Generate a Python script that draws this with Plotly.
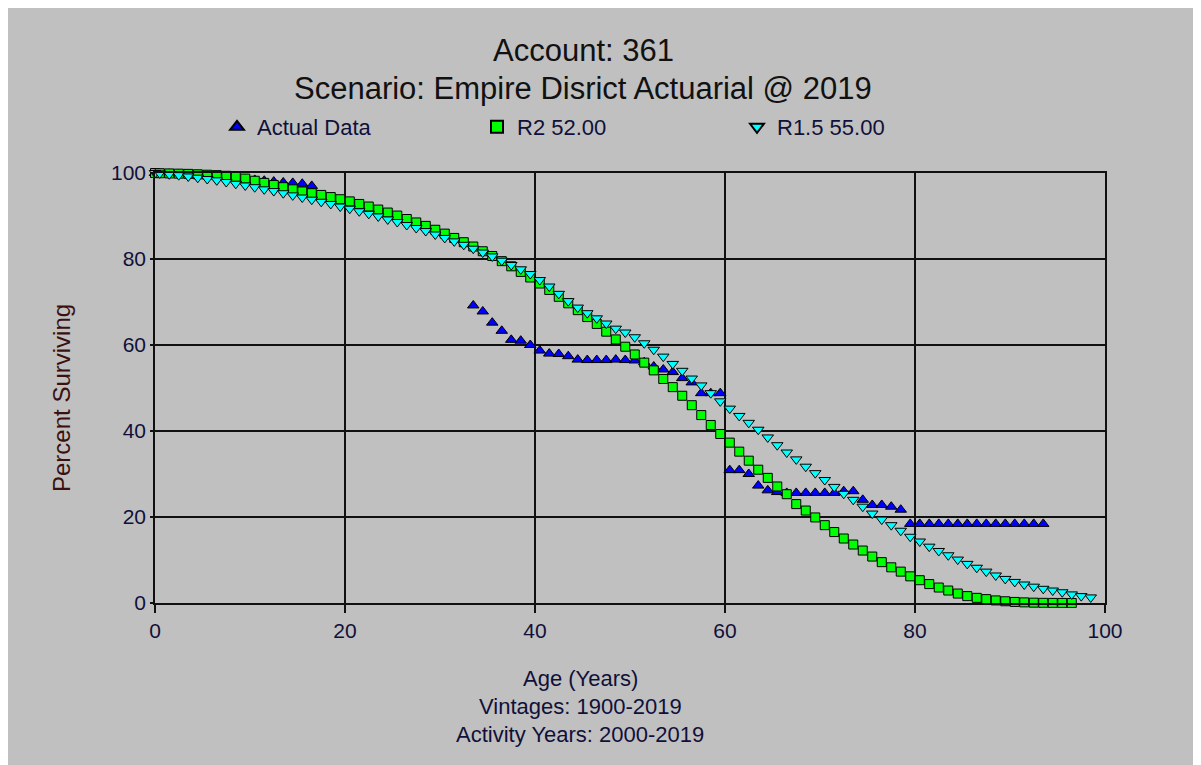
import plotly.graph_objects as go

# ---------------- data ----------------
actual_ages = [0, 0.5, 1.5, 2.5, 3.5, 4.5, 5.5, 6.5, 7.5, 8.5, 9.5, 10.5, 11.5, 12.5, 13.5, 14.5, 15.5, 16.5,
               33.5, 34.5, 35.5, 36.5, 37.5, 38.5, 39.5, 40.5, 41.5, 42.5, 43.5, 44.5, 45.5, 46.5, 47.5, 48.5,
               49.5, 50.5, 51.5, 52.5, 53.5, 54.5, 55.5, 56.5, 57.5, 58.5, 59.5, 60.5, 61.5, 62.5, 63.5, 64.5,
               65.5, 66.5, 67.5, 68.5, 69.5, 70.5, 71.5, 72.5, 73.5, 74.5, 75.5, 76.5, 77.5, 78.5, 79.5, 80.5,
               81.5, 82.5, 83.5, 84.5, 85.5, 86.5, 87.5, 88.5, 89.5, 90.5, 91.5, 92.5, 93.5]
actual_pct = [100, 99.9, 99.8, 99.7, 99.6, 99.5, 99.4, 99.2, 99.0, 98.8, 98.6, 98.4, 98.2, 98.0, 97.8, 97.7, 97.5, 97.0,
              69.2, 67.8, 65.2, 63.3, 61.2, 61.0, 60.0, 58.7, 58.0, 57.9, 57.4, 56.6, 56.5, 56.5, 56.5, 56.6,
              56.5, 56.4, 56.0, 55.0, 54.3, 53.7, 52.3, 51.3, 48.8, 48.8, 48.8, 30.9, 30.9, 30.0, 27.3, 26.2,
              25.8, 25.6, 25.6, 25.6, 25.6, 25.6, 25.6, 26.0, 26.0, 24.0, 22.8, 22.8, 22.4, 21.7, 18.4, 18.4,
              18.4, 18.4, 18.4, 18.4, 18.4, 18.4, 18.4, 18.4, 18.4, 18.4, 18.4, 18.4, 18.4]

r2_ages = [0] + [i + 0.5 for i in range(97)]
r2_pct = [100, 99.95, 99.9, 99.85, 99.8, 99.7, 99.6, 99.5, 99.35, 99.1, 98.7, 98.2, 97.7, 97.2, 96.7, 96.2, 95.7,
          95.3, 94.9, 94.4, 93.9, 93.4, 92.8, 92.2, 91.5, 90.8, 90.1, 89.3, 88.5, 87.7, 86.8, 85.9, 84.9,
          83.9, 82.9, 81.8, 80.7, 79.5, 78.3, 77.0, 75.7, 74.3, 72.8, 71.2, 69.7, 68.1, 66.5, 64.9, 63.1,
          61.3, 59.6, 57.8, 55.9, 54.1, 52.1, 50.2, 48.2, 46.0, 43.7, 41.4, 39.3, 37.3, 35.2, 33.1, 31.0,
          29.1, 27.1, 25.3, 23.0, 21.5, 19.9, 18.1, 16.5, 15.0, 13.6, 12.2, 10.8, 9.5, 8.3, 7.3, 6.2,
          5.3, 4.4, 3.6, 2.9, 2.2, 1.6, 1.2, 0.9, 0.6, 0.4, 0.25, 0.15, 0.08, 0.04, 0.02, 0.01, 0.0]

r15_ages = [0] + [i + 0.5 for i in range(99)]
r15_pct = [100, 99.9, 99.7, 99.5, 99.2, 98.9, 98.6, 98.3, 97.9, 97.5, 97.1, 96.7, 96.2, 95.8, 95.3, 94.8, 94.3,
           93.8, 93.3, 92.8, 92.2, 91.7, 91.1, 90.5, 89.9, 89.2, 88.6, 87.9, 87.2, 86.5, 85.7, 84.9, 84.1,
           83.3, 82.4, 81.5, 80.6, 79.6, 78.6, 77.6, 76.5, 75.1, 73.6, 71.9, 70.2, 68.7, 67.4, 66.2, 65.0,
           63.8, 62.9, 61.8, 60.4, 58.9, 57.3, 55.6, 54.0, 52.2, 50.6, 48.8, 46.9, 45.2, 43.5, 41.9, 40.3,
           38.5, 36.7, 35.0, 33.4, 31.7, 30.2, 28.6, 27.0, 25.4, 24.0, 22.4, 20.8, 19.4, 18.1, 16.8, 15.4,
           14.3, 13.1, 12.1, 11.1, 10.1, 9.1, 8.2, 7.3, 6.4, 5.6, 4.9, 4.3, 3.8, 3.3, 2.9, 2.5,
           2.0, 1.6, 1.3]

tick_vals = [0, 20, 40, 60, 80, 100]

title_line1 = "Account: 361"
title_line2 = "Scenario: Empire Disrict Actuarial @ 2019"
x_title_lines = ["Age (Years)", "Vintages: 1900-2019", "Activity Years: 2000-2019"]
y_title = "Percent Surviving"

# ---------------- figure ----------------
OFF = 8  # page body margin
W, H = 1201 - OFF, 765 - OFF
PLOT_L, PLOT_R, PLOT_T, PLOT_B = 155, 1105, 173, 603  # page pixel positions of plot area
L, T = PLOT_L - OFF, PLOT_T - OFF
R, B = W - (PLOT_R - OFF), H - (PLOT_B - OFF)
PW, PH = PLOT_R - PLOT_L, PLOT_B - PLOT_T

def px_x(p):
    return (p - PLOT_L) / PW

def px_y(p):
    return (PLOT_B - p) / PH

FONT = "Liberation Sans, Arial, sans-serif"
TXT = "#10103a"

fig = go.Figure()
fig.add_trace(go.Scatter(
    x=actual_ages, y=actual_pct, mode="markers", name="Actual Data",
    marker=dict(symbol="triangle-up", size=10, color="#0000ff", line=dict(color="#000000", width=1)),
    cliponaxis=False))
fig.add_trace(go.Scatter(
    x=r2_ages, y=r2_pct, mode="markers", name="R2 52.00",
    marker=dict(symbol="square", size=9, color="#00ff00", line=dict(color="#000000", width=1)),
    cliponaxis=False))
fig.add_trace(go.Scatter(
    x=r15_ages, y=r15_pct, mode="markers", name="R1.5 55.00",
    marker=dict(symbol="triangle-down", size=10, color="#00ffff", line=dict(color="#000000", width=1)),
    cliponaxis=False))

axis_common = dict(
    range=[0, 100], tickvals=tick_vals, showgrid=True, gridcolor="#101010", gridwidth=1.5,
    showline=True, linecolor="#101010", linewidth=1.5, mirror=True, zeroline=False,
    ticks="outside", tickcolor="#101010", tickwidth=1.5,
    tickfont=dict(family=FONT, size=21, color=TXT), fixedrange=True,
)
fig.update_xaxes(**axis_common, ticklen=8)
fig.update_yaxes(**axis_common, ticklen=3)

annotations = [
    dict(text=title_line1, x=px_x(583), y=px_y(50), xref="paper", yref="paper", showarrow=False,
         font=dict(family=FONT, size=31, color="#111111"), xanchor="center", yanchor="middle"),
    dict(text=title_line2, x=px_x(583), y=px_y(88), xref="paper", yref="paper", showarrow=False,
         font=dict(family=FONT, size=31, color="#111111"), xanchor="center", yanchor="middle"),
    dict(text=y_title, x=px_x(61), y=px_y(398), xref="paper", yref="paper", showarrow=False, textangle=-90,
         font=dict(family=FONT, size=24, color="#3a1010"), xanchor="center", yanchor="middle"),
]
for i, t in enumerate(x_title_lines):
    annotations.append(dict(text=t, x=px_x(580), y=px_y(678 + 28 * i), xref="paper", yref="paper",
                            showarrow=False, font=dict(family=FONT, size=22, color=TXT),
                            xanchor="center", yanchor="middle"))

fig.update_layout(
    width=W, height=H, margin=dict(l=L, r=R, t=T, b=B, autoexpand=False),
    paper_bgcolor="#c0c0c0", plot_bgcolor="#c0c0c0",
    showlegend=True,
    legend=dict(orientation="h", x=px_x(217), y=px_y(127), xanchor="left", yanchor="middle",
                entrywidth=215, entrywidthmode="pixels", bgcolor="rgba(0,0,0,0)",
                font=dict(family=FONT, size=22, color=TXT), itemsizing="constant"),
    annotations=annotations,
)

fig.write_html("out.html")
